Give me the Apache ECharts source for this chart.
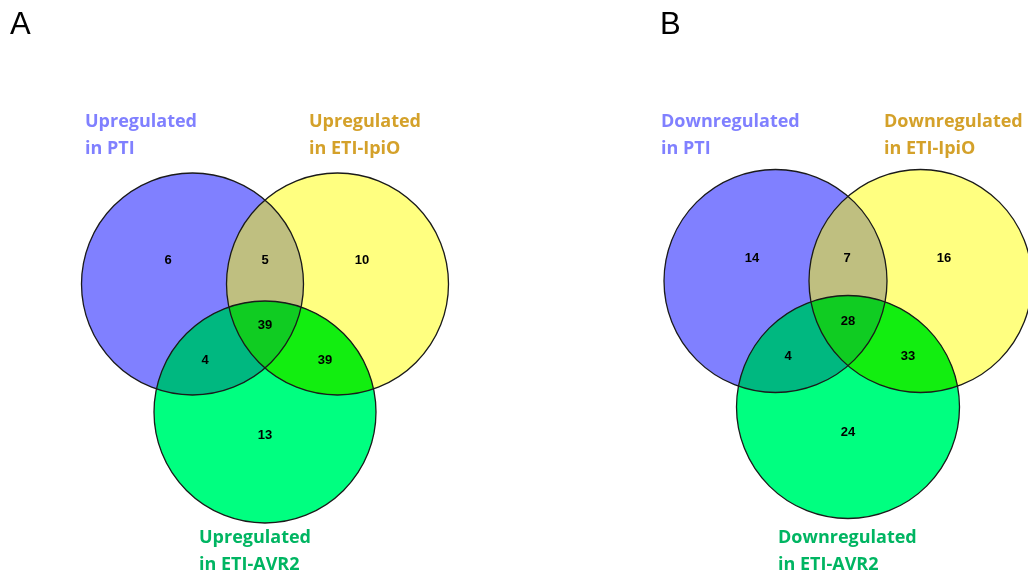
<!DOCTYPE html>
<html>
<head>
<meta charset="utf-8">
<script src="https://cdn.jsdelivr.net/npm/echarts@6/dist/echarts.min.js"></script>
<style>
  html, body { margin: 0; padding: 0; background: #fff; }
  #chart { width: 1028px; height: 573px; }
</style>
</head>
<body>
<div id="chart"></div>
<script>
// data
var panelNames = ['A', 'B'];
var setNames = ['PTI', 'ETI-IpiO', 'ETI-AVR2'];
var panelPrefix = ['Upregulated', 'Downregulated'];
// region order: PTI only, PTI&IpiO, IpiO only, all three, PTI&AVR2, IpiO&AVR2, AVR2 only
var regionMasks = [1, 3, 2, 7, 5, 6, 4];
var upCounts = [6, 5, 10, 39, 4, 39, 13];
var downCounts = [14, 7, 16, 28, 4, 33, 24];
var panelCounts = [upCounts, downCounts];

// layout (pixel space of a 1028x573 page)
var circleLayout = [
  [[192.5, 284, 111], [337.5, 284, 111], [265, 412, 111]],
  [[775.5, 281, 111.5], [920.5, 281, 111.5], [848, 407, 111.5]]
];
var countPos = [
  [[168, 260], [265, 260], [362, 260], [265, 325], [205, 360], [325, 360], [265, 435]],
  [[752, 258], [847, 258], [944, 258], [848, 321], [788, 356], [908, 356], [848, 432]]
];
var labelPos = [
  [[85, 121], [309, 121], [199, 537]],
  [[661, 121], [884, 121], [778, 537]]
];
var letterPos = [[10, 26], [660, 26]];
var maskColor = {1: '#8080ff', 2: '#ffff80', 4: '#00ff80', 3: '#bfbf80', 5: '#00b880', 6: '#12ee10', 7: '#10cc22'};
var setLabelColor = ['#8080ff', '#d4a12a', '#00b562'];

var chart = echarts.init(document.getElementById('chart'));

function circlesPx(panel, api) {
  return circleLayout[panel].map(function (c) {
    var p = api.coord([c[0], c[1]]);
    var s = api.size([c[2], c[2]]);
    return {x: p[0], y: p[1], r: s[0]};
  });
}

function inside(c, x, y) {
  var dx = x - c.x, dy = y - c.y;
  return dx * dx + dy * dy <= c.r * c.r + 0.5;
}

function renderRegion(params, api) {
  var panel = api.value(0), mask = api.value(1);
  var cs = circlesPx(panel, api);
  var members = [];
  for (var i = 0; i < 3; i++) if (mask & (1 << i)) members.push(cs[i]);
  if (members.length == 1) {
    var c = members[0];
    return {type: 'circle', shape: {cx: c.x, cy: c.y, r: c.r}, style: {fill: maskColor[mask]}};
  }
  // intersection of circles is convex: gather boundary points and sort by angle
  var pts = [];
  members.forEach(function (c, k) {
    for (var a = 0; a < 720; a++) {
      var t = a / 720 * Math.PI * 2;
      var x = c.x + c.r * Math.cos(t), y = c.y + c.r * Math.sin(t);
      var ok = true;
      members.forEach(function (o, j) { if (j != k && !inside(o, x, y)) ok = false; });
      if (ok) pts.push([x, y]);
    }
  });
  var mx = 0, my = 0;
  pts.forEach(function (p) { mx += p[0]; my += p[1]; });
  mx /= pts.length; my /= pts.length;
  pts.sort(function (p, q) { return Math.atan2(p[1] - my, p[0] - mx) - Math.atan2(q[1] - my, q[0] - mx); });
  return {type: 'polygon', shape: {points: pts}, style: {fill: maskColor[mask]}};
}

function renderOutline(params, api) {
  var c = circlesPx(api.value(0), api)[api.value(1)];
  return {type: 'circle', shape: {cx: c.x, cy: c.y, r: c.r}, style: {fill: 'none', stroke: '#1a1a1a', lineWidth: 1.3}};
}

function renderCount(params, api) {
  var p = api.coord([api.value(0), api.value(1)]);
  return {type: 'text', style: {text: String(api.value(2)), x: p[0], y: p[1], align: 'center', verticalAlign: 'middle',
    font: 'bold 13px "Liberation Sans", Arial, sans-serif', fill: '#000'}};
}

// fill order: single sets first, then pairs, triple last
var regionData = [];
[0, 1].forEach(function (p) {
  [1, 2, 4, 3, 5, 6, 7].forEach(function (m) { regionData.push([p, m]); });
});
var outlineData = [];
[0, 1].forEach(function (p) { [0, 1, 2].forEach(function (s) { outlineData.push([p, s]); }); });
var countData = [];
[0, 1].forEach(function (p) {
  panelCounts[p].forEach(function (v, i) { countData.push([countPos[p][i][0], countPos[p][i][1], v]); });
});

var graphics = [];
panelNames.forEach(function (name, p) {
  graphics.push({type: 'text', left: letterPos[p][0], top: letterPos[p][1] - 16,
    style: {text: name, font: '31px "Liberation Sans", Arial, sans-serif', fill: '#000'}});
  setNames.forEach(function (s, i) {
    graphics.push({type: 'text', left: labelPos[p][i][0], top: labelPos[p][i][1] - 13,
      style: {text: panelPrefix[p] + '\nin ' + s, font: 'bold 18px "Open Sans", sans-serif', lineHeight: 27,
        fill: setLabelColor[i]}});
  });
});

var option = {
  animation: false,
  grid: {left: 0, right: 0, top: 0, bottom: 0},
  xAxis: {type: 'value', min: 0, max: 1028, show: false},
  yAxis: {type: 'value', min: 0, max: 573, inverse: true, show: false},
  graphic: graphics,
  series: [
    {type: 'custom', name: 'regions', z: 1, renderItem: renderRegion, data: regionData, silent: true},
    {type: 'custom', name: 'outlines', z: 2, renderItem: renderOutline, data: outlineData, silent: true},
    {type: 'custom', name: 'counts', z: 3, renderItem: renderCount, data: countData, silent: true}
  ]
};
chart.setOption(option);
</script>
</body>
</html>
